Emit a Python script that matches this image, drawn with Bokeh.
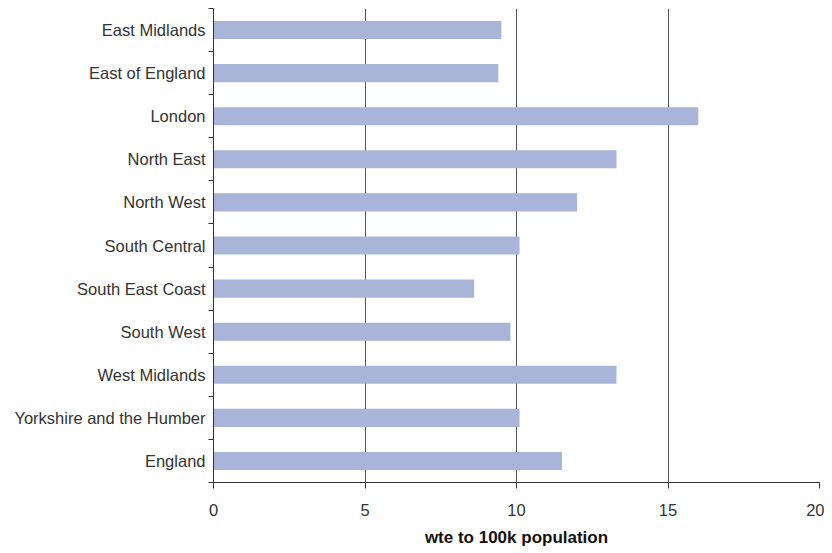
from bokeh.plotting import figure
from bokeh.models import Range1d, FixedTicker
from bokeh.embed import file_html
from bokeh.resources import INLINE

categories = ["East Midlands", "East of England", "London", "North East", "North West",
              "South Central", "South East Coast", "South West", "West Midlands",
              "Yorkshire and the Humber", "England"]
values = [9.5, 9.4, 16.0, 13.3, 12.0, 10.1, 8.6, 9.8, 13.3, 10.1, 11.5]
x_ticks = [0, 5, 10, 15, 20]
x_label = "wte to 100k population"

n = len(categories)
centers = [i + 0.5 for i in range(n)]
bounds = [float(i) for i in range(n + 1)]

FONT = "Liberation Sans"

p = figure(width=824, height=550, output_backend="svg", toolbar_location=None,
           x_range=Range1d(0, 20), y_range=Range1d(n, 0),
           min_border_left=213, min_border_right=5, min_border_top=8,
           min_border_bottom=68, outline_line_color=None)

p.hbar(y=centers, right=values, left=0, height=0.42, color="#A8B5D8", line_color=None)

# x axis
p.xaxis.ticker = FixedTicker(ticks=x_ticks)
p.xaxis.axis_line_color = "#333333"
p.xaxis.major_tick_line_color = "#333333"
p.xaxis.major_tick_in = 0
p.xaxis.major_tick_out = 6
p.xaxis.minor_tick_line_color = None
p.xaxis.major_label_text_font = FONT
p.xaxis.major_label_text_font_size = "16.5px"
p.xaxis.major_label_text_color = "#333333"
p.xaxis.major_label_standoff = 15
p.xaxis.axis_label = x_label
p.xaxis.axis_label_text_font = FONT
p.xaxis.axis_label_text_font_size = "17px"
p.xaxis.axis_label_text_font_style = "bold"
p.xaxis.axis_label_text_color = "#111111"
p.xaxis.axis_label_standoff = 9

# y axis: labels at centers, ticks at band boundaries
p.yaxis.ticker = FixedTicker(ticks=centers, minor_ticks=bounds)
p.yaxis.major_label_overrides = {c: lab for c, lab in zip(centers, categories)}
p.yaxis.axis_line_color = "#333333"
p.yaxis.major_tick_line_color = None
p.yaxis.major_tick_out = 0
p.yaxis.major_tick_in = 0
p.yaxis.minor_tick_line_color = "#333333"
p.yaxis.minor_tick_in = 0
p.yaxis.minor_tick_out = 5
p.yaxis.major_label_text_font = FONT
p.yaxis.major_label_text_font_size = "16.5px"
p.yaxis.major_label_text_color = "#333333"
p.yaxis.major_label_standoff = 3

p.ygrid.grid_line_color = None
p.xgrid.ticker = FixedTicker(ticks=x_ticks[1:])
p.xgrid.grid_line_color = "#555555"
p.xgrid.grid_line_width = 1
p.xgrid.level = "underlay"

open("out.html", "w").write(file_html(p, INLINE))
